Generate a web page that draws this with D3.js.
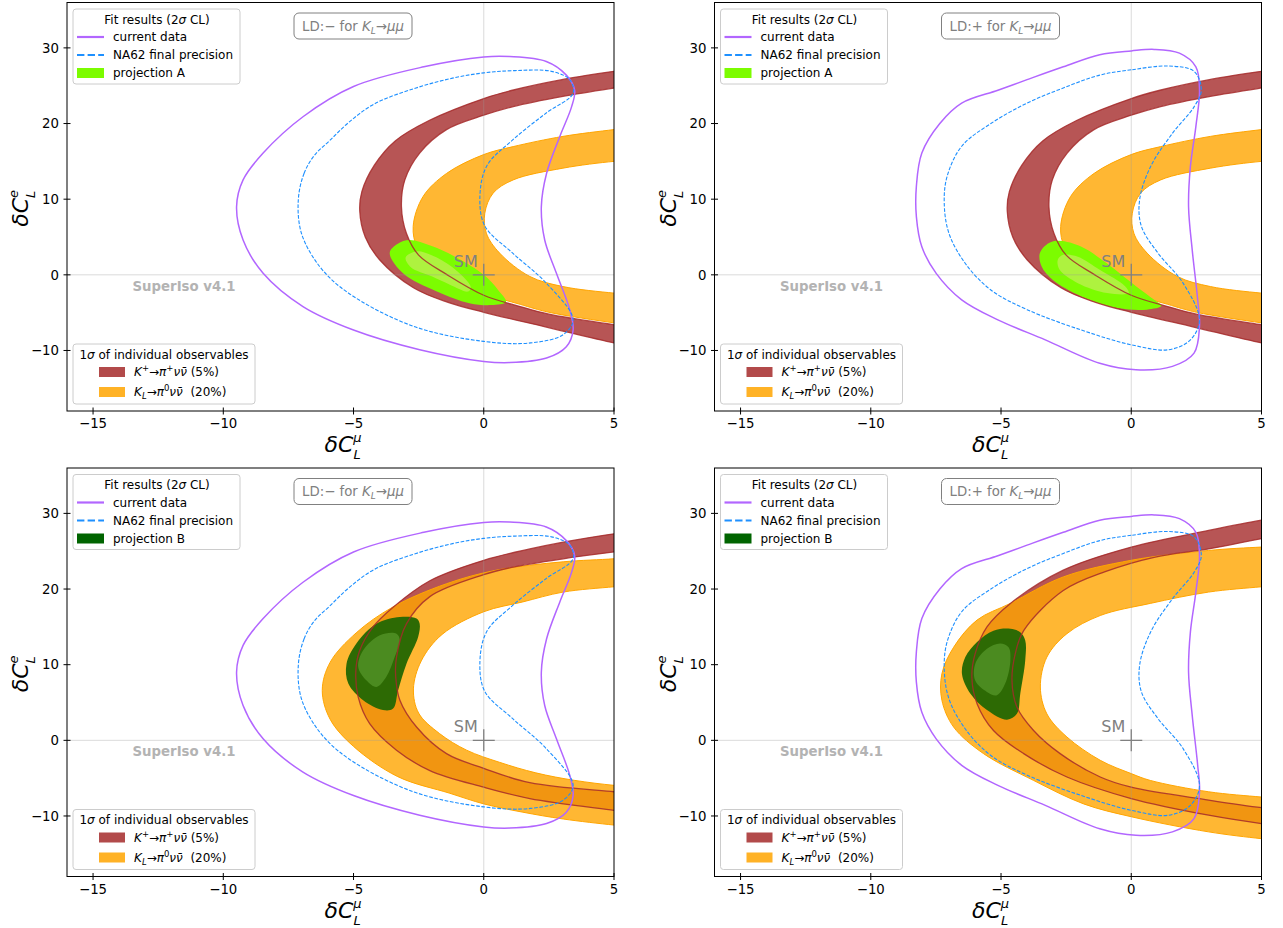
<!DOCTYPE html>
<html><head><meta charset="utf-8">
<script src="https://cdn.jsdelivr.net/npm/d3@7"></script>
<style>
body{margin:0;background:#fff}
svg text{font-family:"DejaVu Sans",sans-serif;white-space:pre}
</style>
</head><body>
<svg id="c" width="1283" height="928"></svg>
<script>
// ---------------- data ----------------
const xDomain = [-16, 5];
const yDomain = [-18, 36];
const xTicks = [-15, -10, -5, 0, 5];
const yTicks = [-10, 0, 10, 20, 30];

// current data (2 sigma), LD:-  and LD:+
const purpleLDminus = [[-9.49,9.0],[-9.24,12.55],[-8.47,16.1],[-6.94,20.9],[-5.0,24.9],[-2.3,27.5],[0,28.8],[1.0,28.85],[2.4,28.2],[3.17,26.4],[3.49,24.4],[3.37,22.2],[2.92,18.3],[2.41,13.4],[2.21,9.0],[2.34,4.6],[2.79,0.2],[3.3,-4.6],[3.43,-7.3],[3.17,-9.5],[2.41,-11.0],[1.0,-11.6],[0,-11.45],[-2.46,-9.9],[-5.0,-7.3],[-6.94,-4.2],[-8.47,0.2],[-9.24,4.6]];
const blueLDminus = [[-7.12,9.9],[-6.9,13.4],[-6.5,15.8],[-5.9,17.8],[-5.2,20.1],[-4.2,22.6],[-2.6,24.7],[-1.2,26.0],[0,26.7],[1.2,27.0],[2.6,26.9],[3.3,25.8],[3.43,24.0],[2.4,21.4],[1.1,17.8],[0.1,14.3],[-0.15,9.9],[0.05,6.4],[1.1,2.9],[2.4,-1.1],[3.43,-5.9],[3.05,-7.9],[1.8,-9.0],[0,-8.8],[-2.7,-6.8],[-5.2,-2.4],[-6.3,1.1],[-7.0,5.5]];
const purpleLDplus = [[0.88,29.8],[0,29.6],[-1.21,29.1],[-2.61,27.5],[-4.0,25.8],[-5.12,24.4],[-6.51,22.7],[-7.35,20.0],[-8.04,16.1],[-8.25,11.7],[-8.25,7.7],[-8.04,3.7],[-7.49,0.2],[-6.51,-3.3],[-5.12,-5.95],[-3.3,-8.6],[-1.21,-11.7],[0.18,-12.55],[1.58,-12.1],[2.41,-10.35],[2.62,-6.8],[2.55,-3.3],[2.34,3.3],[2.2,9.0],[2.27,14.3],[2.48,19.6],[2.62,24.4],[2.48,27.5],[1.85,29.3]];
const blueLDplus = [[1.44,27.6],[0,27.1],[-1.21,26.4],[-2.61,24.7],[-4.0,22.7],[-5.39,20.0],[-6.51,17.0],[-7.07,13.0],[-7.18,9.5],[-7.0,5.5],[-6.37,1.5],[-5.39,-2.0],[-4.0,-4.6],[-1.91,-7.3],[0,-9.25],[1.44,-9.9],[2.27,-8.6],[2.62,-5.95],[1.99,-1.1],[1.02,2.9],[0.39,6.4],[0.32,9.9],[0.74,14.3],[1.58,18.7],[2.41,22.2],[2.69,24.4],[2.41,26.9]];

// K+ -> pi+ nu nu (5%) band, projection A / B
const redOuterA = [[6,27.4],[5,26.9],[3,25.8],[1.1,24.4],[0,23.3],[-2.1,20.4],[-3.4,17.7],[-4.2,14.5],[-4.68,11.0],[-4.76,8.4],[-4.55,5.0],[-4.0,2.0],[-2.7,-1.7],[-1.4,-3.6],[0,-4.95],[2.4,-6.9],[5,-9.0],[6,-9.6]];
const redInnerA = [[6,25.2],[5,24.7],[3.04,23.6],[1.13,22.25],[0,21.1],[-1.43,19.2],[-2.46,16.1],[-3.03,12.55],[-3.16,9.0],[-2.97,5.5],[-2.5,2.6],[-1.4,0.0],[0,-2.7],[1.4,-4.2],[2.5,-5.2],[5,-6.6],[6,-7.1]];
const redOuterBm = [[6,27.7],[5,27.3],[3.05,26.2],[1.77,25.3],[0,23.8],[-2.07,21.1],[-3.48,17.6],[-4.25,15.0],[-4.76,11.9],[-4.91,9.25],[-4.82,5.7],[-4.38,2.2],[-3.35,-1.3],[-2.07,-4.0],[0,-6.2],[1.77,-7.7],[5,-9.25],[6,-9.7]];
const redInnerBm = [[6,25.3],[5,24.9],[3.05,24.0],[1.13,22.9],[0,21.9],[-2.07,19.0],[-2.97,15.4],[-3.35,11.0],[-3.38,8.4],[-3.22,5.3],[-2.58,1.76],[-1.43,-1.76],[0,-3.7],[1.77,-5.6],[5,-6.8],[6,-7.1]];
const redOuterBp = [[6,29.6],[5,29.1],[2.97,27.75],[0,25.55],[-2.61,22.5],[-4.64,18.1],[-5.54,15.0],[-5.99,11.5],[-6.12,8.4],[-5.92,4.85],[-5.29,1.3],[-4.13,-1.76],[-2.47,-4.85],[0,-7.7],[2.97,-9.9],[5,-11.0],[6,-11.4]];
const redInnerBp = [[6,27.2],[5,26.65],[2.97,25.3],[0.88,24.2],[-1.0,22.3],[-2.61,19.8],[-4.13,14.5],[-4.45,11.5],[-4.58,7.9],[-4.39,4.4],[-3.75,1.3],[-2.73,-1.76],[-1.19,-4.85],[0,-6.2],[2.97,-7.9],[5,-8.9],[6,-9.2]];

// K_L -> pi0 nu nu (20%) band
const orangeOuterA = [[6,19.6],[5,19.2],[3.04,18.3],[1.13,16.95],[0,15.9],[-1.43,13.4],[-2.33,10.35],[-2.71,6.4],[-2.55,3.6],[-1.9,1.3],[-1.2,0.1],[0,-2.4],[1.4,-3.9],[2.5,-4.95],[5,-6.35],[6,-6.8]];
const orangeInnerA = [[6,15.2],[5,15.0],[3.04,14.1],[1.13,12.55],[0.36,10.8],[0.04,8.15],[0.1,5.5],[0.61,2.87],[1.77,-0.22],[3.04,-1.55],[5,-2.42],[6,-2.7]];
const orangeOuterBm = [[6,24.3],[5,24.0],[3.05,23.6],[0.49,22.5],[-1.43,20.7],[-3.5,17.6],[-4.9,14.2],[-5.9,10.3],[-6.2,6.6],[-5.9,2.8],[-5.0,-0.8],[-3.3,-4.8],[-1.3,-7.0],[0,-8.4],[1.5,-9.5],[3.05,-10.4],[5,-11.2],[6,-11.5]];
const orangeInnerBm = [[6,20.6],[5,20.3],[3.05,19.6],[1.5,18.3],[0,17.0],[-1.6,14.0],[-2.4,10.5],[-2.7,6.8],[-2.5,3.6],[-1.7,0.9],[-0.66,-1.3],[0.6,-2.9],[2.0,-4.3],[3.5,-5.3],[5,-5.95],[6,-6.2]];
const orangeOuterBp = [[6,25.7],[5,25.55],[2.97,25.1],[0,23.8],[-2.61,21.6],[-4.64,18.1],[-5.92,15.9],[-6.82,12.3],[-7.27,8.8],[-7.27,5.3],[-6.82,1.76],[-5.67,-1.76],[-3.75,-5.3],[-1.83,-8.4],[0,-10.1],[2.97,-12.1],[5,-13.0],[6,-13.3]];
const orangeInnerBp = [[6,20.6],[5,20.3],[2.97,19.6],[0.73,18.1],[-1.19,16.5],[-2.47,14.1],[-3.24,11.0],[-3.49,7.05],[-3.24,3.5],[-2.47,0.44],[-1.19,-2.64],[0,-4.4],[0.73,-5.3],[2.97,-6.8],[5,-7.5],[6,-7.8]];

// projections (outer = 2 sigma, inner = 1 sigma)
const greenOuterAm = [[-3.61,2.9],[-3.3,4.1],[-2.85,4.6],[-2.0,3.8],[-1.0,2.2],[0,0.0],[0.55,-2.0],[0.85,-3.6],[0.3,-4.0],[-0.55,-3.75],[-1.8,-2.2],[-3.1,0.2]];
const greenInnerAm = [[-3.0,2.3],[-2.6,3.1],[-2.0,2.6],[-1.2,1.0],[-0.5,-1.6],[-0.6,-2.2],[-1.3,-1.3],[-2.0,-0.2],[-2.8,1.0]];
const greenOuterAp = [[-3.51,2.86],[-3.16,4.2],[-2.75,4.5],[-1.91,3.7],[-0.93,1.5],[0.18,-1.5],[0.88,-3.3],[1.16,-4.1],[0.6,-4.6],[-0.52,-4.4],[-1.91,-2.86],[-3.02,-0.66],[-3.44,1.1]];
const greenInnerAp = [[-2.82,2.0],[-2.61,2.64],[-2.05,2.4],[-1.21,0.66],[-0.24,-1.5],[-0.1,-2.4],[-0.93,-2.4],[-2.05,-1.1],[-2.75,0.66]];
const greenOuterBm = [[-2.58,16.1],[-3.22,16.3],[-4.12,15.4],[-4.89,12.8],[-5.27,10.1],[-5.2,7.5],[-4.63,5.3],[-3.87,4.0],[-3.48,4.2],[-3.29,6.6],[-2.97,10.1],[-2.52,13.65],[-2.46,15.4]];
const greenInnerBm = [[-3.35,14.1],[-3.99,13.9],[-4.63,11.9],[-4.82,9.7],[-4.5,7.9],[-4.12,7.05],[-3.74,8.4],[-3.42,11.0],[-3.22,13.2]];
const greenOuterBp = [[-4.64,14.75],[-5.29,14.5],[-5.92,13.0],[-6.37,11.0],[-6.5,8.8],[-6.18,6.2],[-5.54,4.0],[-4.77,2.73],[-4.39,3.5],[-4.26,6.2],[-4.07,10.6],[-4.07,13.2],[-4.26,14.3]];
const greenInnerBp = [[-5.03,12.8],[-5.54,12.1],[-5.99,10.1],[-5.99,7.9],[-5.54,6.4],[-5.16,5.95],[-4.84,7.5],[-4.64,10.6],[-4.71,12.3]];

const smPoint = [0, 0];

// ---------------- panels ----------------
const panels = [
  {ld:"−", proj:"A", purple:purpleLDminus, blue:blueLDminus, rO:redOuterA, rI:redInnerA, oO:orangeOuterA, oI:orangeInnerA, gO:greenOuterAm, gI:greenInnerAm},
  {ld:"+", proj:"A", purple:purpleLDplus, blue:blueLDplus, rO:redOuterA, rI:redInnerA, oO:orangeOuterA, oI:orangeInnerA, gO:greenOuterAp, gI:greenInnerAp},
  {ld:"−", proj:"B", purple:purpleLDminus, blue:blueLDminus, rO:redOuterBm, rI:redInnerBm, oO:orangeOuterBm, oI:orangeInnerBm, gO:greenOuterBm, gI:greenInnerBm},
  {ld:"+", proj:"B", purple:purpleLDplus, blue:blueLDplus, rO:redOuterBp, rI:redInnerBp, oO:orangeOuterBp, oI:orangeInnerBp, gO:greenOuterBp, gI:greenInnerBp}
];
const pos = [{left:67, top:2.5}, {left:714.5, top:2.5}, {left:67, top:468}, {left:714.5, top:468}];
const W = 547, H = 408.5;
const greenCols = {A:{o:"#7cfc00", i:"#aef23f", leg:"#7cfc00"}, B:{o:"#2d6a04", i:"#4b8b20", leg:"#006400"}};

const svg = d3.select("#c");

function mathLabel(t, parts) {
  parts.forEach(p => {
    const s = t.append("tspan").text(p.t);
    if (p.i) s.attr("font-style", "italic");
    if (p.fs) s.attr("font-size", p.fs);
    if (p.dy) s.attr("dy", p.dy);
    if (p.dx) s.attr("dx", p.dx);
  });
}

panels.forEach((p, idx) => {
  const P = pos[idx];
  const g = svg.append("g").attr("transform", `translate(${P.left},${P.top})`);
  const x = d3.scaleLinear().domain(xDomain).range([0, W]);
  const y = d3.scaleLinear().domain(yDomain).range([H, 0]);
  const clipId = "clip" + idx;
  g.append("clipPath").attr("id", clipId).append("rect").attr("width", W).attr("height", H);
  const plot = g.append("g").attr("clip-path", `url(#${clipId})`);
  const open = d3.line().x(d => x(d[0])).y(d => y(d[1])).curve(d3.curveCatmullRom.alpha(0.5));
  const closed = d3.line().x(d => x(d[0])).y(d => y(d[1])).curve(d3.curveCatmullRomClosed.alpha(0.5));
  const band = (o, i) => open(o) + open(i.slice().reverse()).replace(/^M/, "L") + "Z";

  // bands
  plot.append("path").attr("d", band(p.rO, p.rI)).attr("fill", "#a52a2a").attr("fill-opacity", 0.8);
  plot.append("path").attr("d", band(p.oO, p.oI)).attr("fill", "#ffa500").attr("fill-opacity", 0.8);
  [p.oO, p.oI].forEach(c => plot.append("path").attr("d", open(c)).attr("fill", "none")
    .attr("stroke", "#ffa500").attr("stroke-width", 1));
  // projection
  const gc = greenCols[p.proj];
  plot.append("path").attr("d", closed(p.gO)).attr("fill", gc.o);
  plot.append("path").attr("d", closed(p.gI)).attr("fill", gc.i);
  // red band edges
  [p.rO, p.rI].forEach(c => plot.append("path").attr("d", open(c)).attr("fill", "none")
    .attr("stroke", "#a52a2a").attr("stroke-opacity", 0.85).attr("stroke-width", 1.3));
  // grid lines at 0
  plot.append("line").attr("x1", x(0)).attr("x2", x(0)).attr("y1", 0).attr("y2", H)
    .attr("stroke", "#999").attr("stroke-opacity", 0.45).attr("stroke-width", 0.8);
  plot.append("line").attr("x1", 0).attr("x2", W).attr("y1", y(0)).attr("y2", y(0))
    .attr("stroke", "#999").attr("stroke-opacity", 0.45).attr("stroke-width", 0.8);
  // contours
  plot.append("path").attr("d", closed(p.purple)).attr("fill", "none").attr("stroke", "#b266ff").attr("stroke-width", 1.5);
  plot.append("path").attr("d", closed(p.blue)).attr("fill", "none").attr("stroke", "#1e90ff").attr("stroke-width", 1.1).attr("stroke-dasharray", "3.7,1.6");
  // SM
  const sx = x(smPoint[0]), sy = y(smPoint[1]);
  plot.append("path").attr("d", `M${sx-11},${sy}H${sx+11}M${sx},${sy-11}V${sy+11}`).attr("stroke", "#808080").attr("stroke-width", 1.3);
  plot.append("text").attr("x", sx - 6).attr("y", sy - 8).attr("text-anchor", "end").attr("font-size", 16).attr("fill", "#808080").text("SM");
  // watermark
  g.append("text").attr("x", 117).attr("y", 288).attr("text-anchor", "middle").attr("font-size", 13.3)
    .attr("font-weight", "bold").attr("fill", "#b3b3b3").text("SuperIso v4.1");

  // frame
  g.append("rect").attr("width", W).attr("height", H).attr("fill", "none").attr("stroke", "#000").attr("stroke-width", 1);
  // ticks
  xTicks.forEach(t => {
    g.append("line").attr("x1", x(t)).attr("x2", x(t)).attr("y1", H - 3.5).attr("y2", H + 3.5).attr("stroke", "#000");
    g.append("text").attr("x", x(t)).attr("y", H + 17).attr("text-anchor", "middle").attr("font-size", 13.3)
      .text(t < 0 ? "−" + Math.abs(t) : String(t));
  });
  yTicks.forEach(t => {
    g.append("line").attr("x1", -3.5).attr("x2", 3.5).attr("y1", y(t)).attr("y2", y(t)).attr("stroke", "#000");
    g.append("text").attr("x", -8).attr("y", y(t) + 4.8).attr("text-anchor", "end").attr("font-size", 13.3)
      .text(t < 0 ? "−" + Math.abs(t) : String(t));
  });
  // axis labels
  const xl = g.append("text").attr("x", W / 2 - 16).attr("y", H + 41).attr("font-size", 22);
  mathLabel(xl, [{t:"δC", i:1}, {t:"μ", i:1, fs:13, dy:-10}, {t:"L", i:1, fs:13, dy:17, dx:-8}]);
  const yl = g.append("text").attr("transform", `translate(-39,${H/2 + 20}) rotate(-90)`).attr("font-size", 22);
  mathLabel(yl, [{t:"δC", i:1}, {t:"e", i:1, fs:13, dy:-10}, {t:"L", i:1, fs:13, dy:17, dx:-8}]);

  // LD box
  g.append("rect").attr("x", 227).attr("y", 10.5).attr("width", 118).attr("height", 26).attr("rx", 5)
    .attr("fill", "#fff").attr("stroke", "#808080").attr("stroke-width", 1);
  const ldt = g.append("text").attr("x", 235).attr("y", 28).attr("font-size", 13.3).attr("fill", "#808080");
  mathLabel(ldt, [{t:"LD:" + p.ld + " for "}, {t:"K", i:1}, {t:"L", i:1, fs:9, dy:3}, {t:"→", dy:-3}, {t:"μμ", i:1}]);

  // legend 1
  g.append("rect").attr("x", 6).attr("y", 6.5).attr("width", 167).attr("height", 75).attr("rx", 3)
    .attr("fill", "#fff").attr("fill-opacity", 0.8).attr("stroke", "#cccccc");
  g.append("text").attr("x", 90).attr("y", 21).attr("text-anchor", "middle").attr("font-size", 12)
    .call(t => mathLabel(t, [{t:"Fit results (2"}, {t:"σ", i:1}, {t:" CL)"}]));
  const rows = [34.5, 52.5, 70.5];
  g.append("line").attr("x1", 10).attr("x2", 37).attr("y1", rows[0]).attr("y2", rows[0]).attr("stroke", "#b266ff").attr("stroke-width", 2.2);
  g.append("line").attr("x1", 10).attr("x2", 37).attr("y1", rows[1]).attr("y2", rows[1]).attr("stroke", "#1e90ff").attr("stroke-width", 2.2).attr("stroke-dasharray", "7.4,3.2");
  g.append("rect").attr("x", 10).attr("y", rows[2] - 5).attr("width", 27).attr("height", 10).attr("fill", gc.leg);
  ["current data", "NA62 final precision", "projection " + p.proj].forEach((s, k) =>
    g.append("text").attr("x", 46).attr("y", rows[k] + 4.3).attr("font-size", 12).text(s));

  // legend 2
  g.append("rect").attr("x", 6).attr("y", 341.5).attr("width", 182).attr("height", 60).attr("rx", 3)
    .attr("fill", "#fff").attr("fill-opacity", 0.8).attr("stroke", "#cccccc");
  g.append("text").attr("x", 97).attr("y", 356).attr("text-anchor", "middle").attr("font-size", 12)
    .call(t => mathLabel(t, [{t:"1"}, {t:"σ", i:1}, {t:" of individual observables"}]));
  const r2 = [369.5, 389.5];
  g.append("rect").attr("x", 32).attr("y", r2[0] - 5).attr("width", 26).attr("height", 10).attr("fill", "#a52a2a").attr("fill-opacity", 0.85);
  g.append("rect").attr("x", 32).attr("y", r2[1] - 5).attr("width", 26).attr("height", 10).attr("fill", "#ffa500").attr("fill-opacity", 0.85);
  const t1 = g.append("text").attr("x", 67).attr("y", r2[0] + 4.3).attr("font-size", 12);
  mathLabel(t1, [{t:"K", i:1}, {t:"+", fs:8.5, dy:-5}, {t:"→", dy:5}, {t:"π", i:1}, {t:"+", fs:8.5, dy:-5}, {t:"νν̄", i:1, dy:5}, {t:" (5%)"}]);
  const t2 = g.append("text").attr("x", 67).attr("y", r2[1] + 4.3).attr("font-size", 12);
  mathLabel(t2, [{t:"K", i:1}, {t:"L", i:1, fs:8.5, dy:3}, {t:"→", dy:-3}, {t:"π", i:1}, {t:"0", fs:8.5, dy:-5}, {t:"νν̄", i:1, dy:5}, {t:"  (20%)"}]);
});
</script>
</body></html>
